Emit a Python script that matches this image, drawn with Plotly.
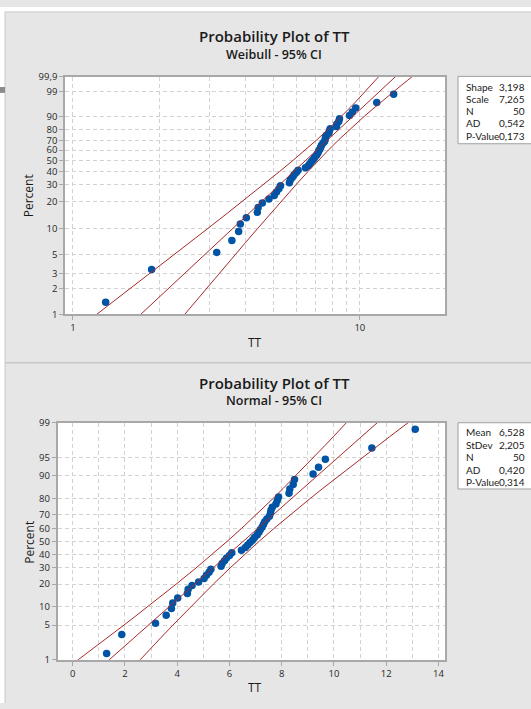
import math
from statistics import NormalDist
import plotly.graph_objects as go

# ---- data: sorted TT observations (n = 50) ----
tt = [1.30, 1.88, 3.17, 3.58, 3.78, 3.83, 4.02, 4.39, 4.42, 4.57,
      4.82, 5.03, 5.12, 5.22, 5.29, 5.68, 5.72, 5.81, 5.89, 6.00,
      6.09, 6.46, 6.61, 6.70, 6.79, 6.89, 6.96, 7.06, 7.13, 7.18,
      7.25, 7.30, 7.35, 7.43, 7.53, 7.57, 7.59, 7.64, 7.78, 7.83,
      7.88, 8.28, 8.31, 8.44, 8.49, 9.20, 9.41, 9.67, 11.45, 13.11]

# fitted parameters shown in the tables
weib_shape = 3.198
weib_scale = 7.265
norm_mean = 6.528
norm_sd = 2.205
n_obs = 50

weib_labels = ["Shape", "Scale", "N", "AD", "P-Value"]
weib_values = ["3,198", "7,265", "50", "0,542", "0,173"]
norm_labels = ["Mean", "StDev", "N", "AD", "P-Value"]
norm_values = ["6,528", "2,205", "50", "0,420", "0,314"]

weib_pct_ticks = [1, 2, 3, 5, 10, 20, 30, 40, 50, 60, 70, 80, 90, 99, 99.9]
weib_pct_text = ["1", "2", "3", "5", "10", "20", "30", "40", "50", "60",
                 "70", "80", "90", "99", "99,9"]
norm_pct_ticks = [1, 5, 10, 20, 30, 40, 50, 60, 70, 80, 90, 95, 99]
norm_pct_text = [str(v) for v in norm_pct_ticks]

# ---- probability scales ----
nd = NormalDist()


def weib_q(p):
    return math.log(-math.log(1.0 - p))


def norm_q(p):
    return nd.inv_cdf(p)


# median-rank (Benard) plotting positions
ranks = [(i - 0.3) / (n_obs + 0.4) for i in range(1, n_obs + 1)]

# fitted line and 95% confidence bands
z975 = 1.959964
curve_p = [0.0005, 0.001, 0.002, 0.005, 0.01, 0.02, 0.03, 0.05, 0.07, 0.1,
           0.15, 0.2, 0.3, 0.4, 0.5, 0.6, 0.7, 0.8, 0.85, 0.9, 0.93, 0.95,
           0.97, 0.98, 0.99, 0.995, 0.998, 0.999, 0.9995]

b = 1.0 / weib_shape
w_fit, w_lo, w_hi, w_y = [], [], [], []
for p in curve_p:
    w = weib_q(p)
    yp = math.log(weib_scale) + w * b
    var = b * b / n_obs * (1.10867 - 2 * 0.25702 * w + 0.60793 * w * w)
    h = z975 * math.sqrt(var)
    w_y.append(w)
    w_fit.append(math.exp(yp))
    w_lo.append(math.exp(yp - h))
    w_hi.append(math.exp(yp + h))

n_fit, n_lo, n_hi, n_y = [], [], [], []
for p in curve_p:
    z = norm_q(p)
    xp = norm_mean + z * norm_sd
    h = z975 * math.sqrt(norm_sd ** 2 / n_obs * (1 + z * z / 2))
    n_y.append(z)
    n_fit.append(xp)
    n_lo.append(xp - h)
    n_hi.append(xp + h)

# ---- figure geometry (pixels) ----
W, H = 531, 709


def fx(x):
    return x / W


def fy(y):
    return 1 - y / H


PANEL = "#e6e6e6"
FRAME = "#a8a8a8"
GRID = "#d2d2d2"
DOT = "#0054a6"
FIT = "#a52a2a"
TXT = "#262626"
FONT = "Open Sans"
TABLE_FONT = "Lato"

fig = go.Figure()

# Weibull panel
fig.add_trace(go.Scatter(x=tt, y=[weib_q(p) for p in ranks], mode="markers",
                         marker=dict(color=DOT, size=7.5), xaxis="x", yaxis="y",
                         showlegend=False))
for xs in (w_lo, w_fit, w_hi):
    fig.add_trace(go.Scatter(x=xs, y=w_y, mode="lines", line=dict(color=FIT, width=1),
                             xaxis="x", yaxis="y", showlegend=False))

# Normal panel
fig.add_trace(go.Scatter(x=tt, y=[norm_q(p) for p in ranks], mode="markers",
                         marker=dict(color=DOT, size=7.5), xaxis="x2", yaxis="y2",
                         showlegend=False))
for xs in (n_lo, n_fit, n_hi):
    fig.add_trace(go.Scatter(x=xs, y=n_y, mode="lines", line=dict(color=FIT, width=1),
                             xaxis="x2", yaxis="y2", showlegend=False))

axis_common = dict(showline=True, mirror=True, linecolor=FRAME, linewidth=1.5,
                   ticks="outside", ticklen=4, tickcolor=FRAME, showgrid=True,
                   gridcolor=GRID, griddash="4px,3px", gridwidth=1, zeroline=False,
                   tickfont=dict(family=FONT, size=9.5, color=TXT))

fig.update_layout(
    width=W, height=H, autosize=False,
    margin=dict(l=0, r=0, t=0, b=0),
    paper_bgcolor=PANEL, plot_bgcolor="white",
    xaxis=dict(domain=[fx(65), fx(445)], anchor="y", type="log",
               range=[math.log10(0.938), math.log10(19.8)],
               tickmode="array", tickvals=[1, 10], ticktext=["1", "10"],
               minor=dict(tickmode="array", tickvals=[2, 3, 4, 5, 6, 7, 8, 9],
                          showgrid=True, gridcolor=GRID, griddash="4px,3px",
                          ticks=""),
               **axis_common),
    yaxis=dict(domain=[fy(313), fy(71)], anchor="x",
               range=[weib_q(0.01), weib_q(0.999)],
               tickmode="array", tickvals=[weib_q(v / 100) for v in weib_pct_ticks],
               ticktext=weib_pct_text, **axis_common),
    xaxis2=dict(domain=[fx(57.5), fx(445)], anchor="y2",
                range=[-0.58, 14.25],
                tickmode="array", tickvals=list(range(0, 15, 2)),
                ticktext=[str(v) for v in range(0, 15, 2)],
                minor=dict(tickmode="array", tickvals=list(range(1, 14, 2)),
                           showgrid=True, gridcolor=GRID, griddash="4px,3px",
                           ticks=""),
                **axis_common),
    yaxis2=dict(domain=[fy(665), fy(423.5)], anchor="x2",
                range=[norm_q(0.01), norm_q(0.99)],
                tickmode="array", tickvals=[norm_q(v / 100) for v in norm_pct_ticks],
                ticktext=norm_pct_text, **axis_common),
)

shapes = [
    # window edges and panel separator
    dict(type="rect", xref="paper", yref="paper", x0=0, x1=fx(5), y0=0, y1=1,
         fillcolor="white", line=dict(width=0)),
    dict(type="rect", xref="paper", yref="paper", x0=0, x1=1, y0=fy(5), y1=1,
         fillcolor="white", line=dict(width=0)),
    dict(type="line", xref="paper", yref="paper", x0=fx(5), x1=fx(5), y0=0, y1=fy(5),
         line=dict(color="#c8c8c8", width=1)),
    dict(type="line", xref="paper", yref="paper", x0=fx(5), x1=1, y0=fy(5), y1=fy(5),
         line=dict(color="#c8c8c8", width=1)),
    dict(type="line", xref="paper", yref="paper", x0=fx(5), x1=1, y0=fy(362.5),
         y1=fy(362.5), line=dict(color="#c8c8c8", width=1.5)),
    dict(type="rect", xref="paper", yref="paper", x0=0, x1=fx(5), y0=fy(87.5),
         y1=fy(81.5), fillcolor="#8c8c8c", line=dict(width=0)),
    # statistics boxes
    dict(type="rect", xref="paper", yref="paper", x0=fx(458), x1=fx(540),
         y0=fy(139.3), y1=fy(70.7), fillcolor="white",
         line=dict(color="#a0a0a0", width=1)),
    dict(type="rect", xref="paper", yref="paper", x0=fx(458), x1=fx(540),
         y0=fy(491), y1=fy(423.5), fillcolor="white",
         line=dict(color="#a0a0a0", width=1)),
]

ann = []


def text_at(x, y, s, size, xanchor="center", bold=False, angle=0, family=FONT):
    ann.append(dict(xref="paper", yref="paper", x=fx(x), y=fy(y), text=s,
                    showarrow=False, xanchor=xanchor, yanchor="middle",
                    textangle=angle,
                    font=dict(family=family, size=size, color="#1a1a1a",
                              weight=600 if bold else 400)))


# titles
text_at(274.4, 29.3, "Probability Plot of TT", 15, bold=True)
text_at(274.4, 48.3, "Weibull - 95% CI", 12.5, bold=True)
text_at(274.4, 382.7, "Probability Plot of TT", 15, bold=True)
text_at(274.4, 400.7, "Normal - 95% CI", 12.5, bold=True)

# axis titles
text_at(28.8, 192, "Percent", 12, angle=-90)
text_at(254.7, 341.7, "TT", 12)
text_at(28.8, 545, "Percent", 12, angle=-90)
text_at(254.7, 693, "TT", 12)

# statistics tables
for k in range(5):
    text_at(464, 81.2 + k * 12.45, weib_labels[k], 10, xanchor="left",
            family=TABLE_FONT)
    text_at(526.5, 81.2 + k * 12.45, weib_values[k], 10, xanchor="right",
            family=TABLE_FONT)
    text_at(464, 433.2 + k * 12.75, norm_labels[k], 10, xanchor="left",
            family=TABLE_FONT)
    text_at(526.5, 433.2 + k * 12.75, norm_values[k], 10, xanchor="right",
            family=TABLE_FONT)

fig.update_layout(shapes=shapes, annotations=ann)

fig.write_html("out.html")
